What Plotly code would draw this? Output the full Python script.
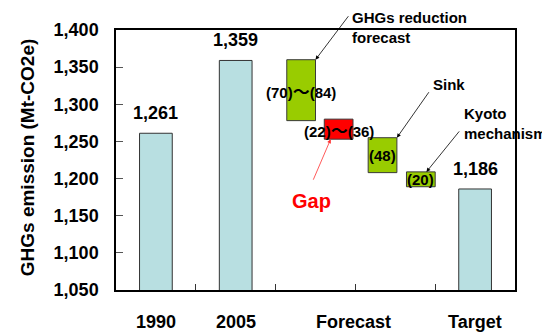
import plotly.graph_objects as go

# ---- data ----
categories = ["1990", "2005", "Forecast", "Target"]
total_values = [1261, 1359, 1186]            # 1990, 2005, Target
step_labels = ["(70)～(84)", "(22)～(36)", "(48)", "(20)"]
step_bottom = [1278, 1253, 1208, 1189]
step_top = [1360, 1280, 1255, 1209]
step_names = ["GHGs reduction<br>forecast", "Gap", "Sink", "Kyoto<br>mechanism"]
y_title = "GHGs emission (Mt-CO2e)"
y_ticks = [1050, 1100, 1150, 1200, 1250, 1300, 1350, 1400]

# ---- layout helpers (positions / styles) ----
total_x = [0.5, 1.5, 4.5]
step_x = [2.32, 2.79, 3.34, 3.82]
cat_label_x = [0.5, 1.5, 2.98, 4.5]
step_colors = ["#99CC00", "#FF0000", "#99CC00", "#99CC00"]
FONT = "Liberation Sans, Arial, sans-serif"


def styled(lab):
    return lab.replace("～", "<span style='font-family:Noto Sans CJK JP;font-size:17px'>～</span>")


fig = go.Figure()
fig.add_trace(go.Bar(
    x=total_x, y=total_values, width=0.41,
    marker=dict(color="#B8DFE1", line=dict(color="#333333", width=1)),
    hoverinfo="skip"))
fig.add_trace(go.Bar(
    x=step_x, y=[t - b for t, b in zip(step_top, step_bottom)], base=step_bottom,
    width=0.36,
    marker=dict(color=step_colors, line=dict(color="#3a3a3a", width=1)),
    hoverinfo="skip"))

ann = []
# value labels on totals
for xv, v in zip(total_x, total_values):
    ann.append(dict(x=xv, y=v, xref="x", yref="y", text=f"{v:,}", showarrow=False,
                    yanchor="bottom", yshift=8,
                    font=dict(family=FONT, size=18, color="black", weight="bold")))
# labels in step boxes
for xv, b, t, lab in zip(step_x, step_bottom, step_top, step_labels):
    ann.append(dict(x=xv, y=(b + t) / 2, xref="x", yref="y", text=styled(lab), showarrow=False,
                    font=dict(family=FONT, size=15, color="black", weight="bold")))
# category labels
for xv, c in zip(cat_label_x, categories):
    ann.append(dict(x=xv, y=-0.122, xref="x", yref="paper", text=c, showarrow=False,
                    yanchor="middle",
                    font=dict(family=FONT, size=18, color="black", weight="bold")))
# y-axis title
ann.append(dict(x=-0.221, y=0.51, xref="paper", yref="paper", text=y_title,
                showarrow=False, textangle=-90, xanchor="center", yanchor="middle",
                font=dict(family=FONT, size=19, color="black", weight="bold")))

# arrows
arrow_heads = [(step_x[0] + 0.18, step_top[0]), (step_x[2] + 0.18, step_top[2]),
               (step_x[3] + 0.07, step_top[3]), (step_x[1] - 0.10, step_bottom[1])]
arrow_off = [(34, -45), (33, -47), (34, -42), (-18, 42)]
arrow_col = ["black", "black", "black", "#FF3030"]
for (hx, hy), (ox, oy), col in zip(arrow_heads, arrow_off, arrow_col):
    ann.append(dict(x=hx, y=hy, xref="x", yref="y", text="", showarrow=True,
                    ax=ox, ay=oy, arrowhead=2, arrowsize=1, arrowwidth=0.8,
                    arrowcolor=col))

# callout texts
callouts = [(2.93, 1.0095, "paper", step_names[0], "black", 15, "left"),
            (3.95, 1326.5, "y", step_names[2], "black", 15, "left"),
            (4.33, 1274.5, "y", step_names[3], "black", 15, "left"),
            (2.45, 1170, "y", step_names[1], "#FF0000", 20, "center")]
for xv, yv, yr, txt, col, sz, anc in callouts:
    ann.append(dict(x=xv, y=yv, xref="x", yref=yr, text=txt, showarrow=False,
                    xanchor=anc, yanchor="middle", align="left",
                    font=dict(family=FONT, size=sz, color=col, weight="bold")))

fig.update_layout(
    width=550, height=334,
    margin=dict(l=108, r=43, t=20, b=52),
    plot_bgcolor="white", paper_bgcolor="white",
    showlegend=False, barmode="overlay",
    annotations=ann,
    xaxis=dict(range=[0, 5], tickvals=[1, 2, 3, 4], showticklabels=False,
               ticks="inside", ticklen=6, tickcolor="#333333",
               showline=True, linecolor="black", linewidth=1.5, mirror=True,
               showgrid=False, zeroline=False),
    yaxis=dict(range=[1050, 1400], tickvals=y_ticks,
               ticktext=[f"{v:,}" for v in y_ticks],
               ticks="inside", ticklen=7, tickcolor="#555555",
               ticklabelstandoff=12,
               tickfont=dict(family=FONT, size=18, color="black", weight="bold"),
               showline=True, linecolor="black", linewidth=1.5, mirror=True,
               showgrid=False, zeroline=False),
)

fig.write_html("out.html")
